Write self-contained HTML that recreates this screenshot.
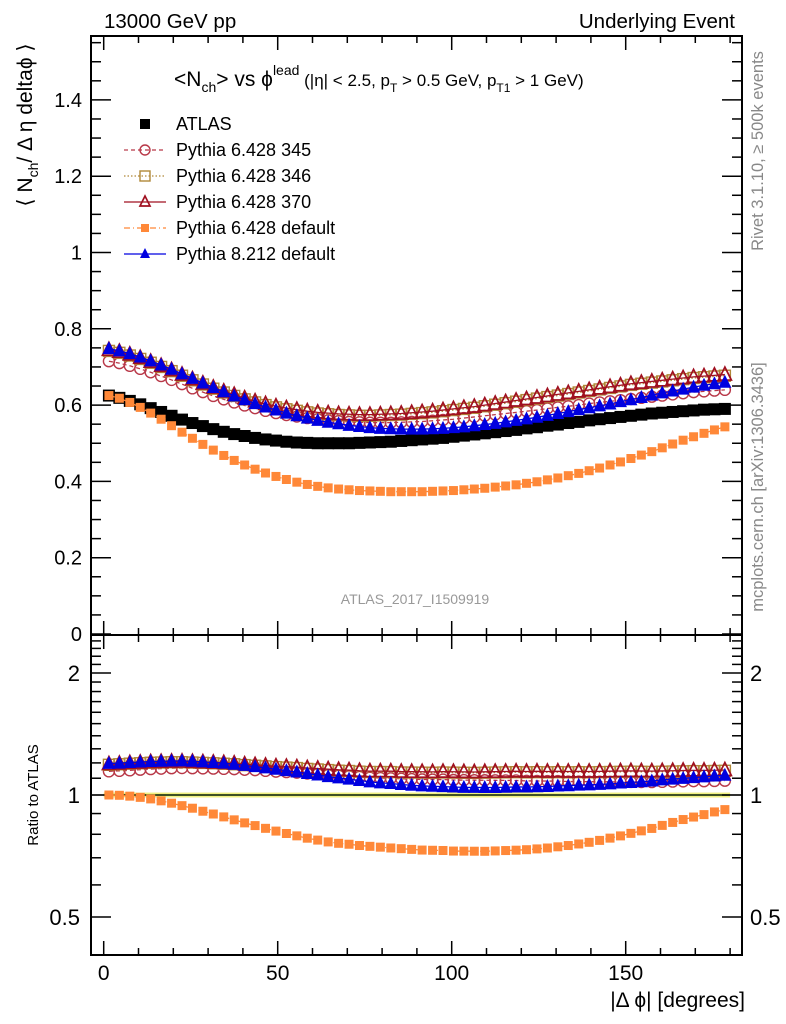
<!DOCTYPE html>
<html><head><meta charset="utf-8"><style>
body{margin:0;background:#fff}
svg{display:block;font-family:"Liberation Sans",sans-serif}
</style></head><body>
<svg id="c" width="786" height="1024" viewBox="0 0 786 1024" xmlns="http://www.w3.org/2000/svg">
<text x="104" y="28" font-size="20.5">13000 GeV pp</text>
<text x="735" y="28" font-size="20.5" text-anchor="end">Underlying Event</text>
<text transform="translate(32,125) rotate(-90)" font-size="21" text-anchor="middle">⟨ N<tspan font-size="14" dy="6">ch</tspan><tspan dy="-6">/ Δ η deltaϕ ⟩</tspan></text>
<text transform="translate(38,795) rotate(-90)" font-size="15" text-anchor="middle">Ratio to ATLAS</text>
<text x="745" y="1007" font-size="21" text-anchor="end">|Δ ϕ| [degrees]</text>
<text transform="translate(763,151) rotate(-90)" font-size="16.5" fill="#888" text-anchor="middle">Rivet 3.1.10, ≥ 500k events</text>
<text transform="translate(763,487) rotate(-90)" font-size="16.5" fill="#888" text-anchor="middle">mcplots.cern.ch [arXiv:1306.3436]</text>
<text x="415" y="604" font-size="14" fill="#999" text-anchor="middle">ATLAS_2017_I1509919</text>
<text x="174" y="86" font-size="21">&lt;N<tspan font-size="14" dy="6">ch</tspan><tspan dy="-6">&gt; vs ϕ</tspan><tspan font-size="14" dy="-11">lead</tspan><tspan font-size="17" dy="11"> (|η| &lt; 2.5, p</tspan><tspan font-size="12" dy="6">T</tspan><tspan font-size="17" dy="-6"> &gt; 0.5 GeV, p</tspan><tspan font-size="12" dy="6">T1</tspan><tspan font-size="17" dy="-6"> &gt; 1 GeV)</tspan></text>
<g id="g"></g>
</svg>
<script>
const xCenters=[1.5,4.5,7.5,10.5,13.5,16.5,19.5,22.5,25.5,28.5,31.5,34.5,37.5,40.5,43.5,46.5,49.5,52.5,55.5,58.5,61.5,64.5,67.5,70.5,73.5,76.5,79.5,82.5,85.5,88.5,91.5,94.5,97.5,100.5,103.5,106.5,109.5,112.5,115.5,118.5,121.5,124.5,127.5,130.5,133.5,136.5,139.5,142.5,145.5,148.5,151.5,154.5,157.5,160.5,163.5,166.5,169.5,172.5,175.5,178.5];
const atlas=[0.625,0.619,0.611,0.602,0.592,0.582,0.572,0.562,0.553,0.545,0.537,0.530,0.524,0.519,0.514,0.510,0.507,0.504,0.502,0.501,0.500,0.500,0.500,0.500,0.501,0.502,0.503,0.504,0.506,0.508,0.510,0.512,0.514,0.517,0.520,0.523,0.526,0.529,0.532,0.535,0.539,0.542,0.546,0.549,0.553,0.556,0.560,0.563,0.566,0.569,0.572,0.575,0.578,0.580,0.582,0.584,0.586,0.588,0.589,0.590];
const py345=[0.715,0.710,0.703,0.695,0.686,0.676,0.666,0.655,0.644,0.634,0.624,0.615,0.607,0.599,0.592,0.585,0.579,0.574,0.570,0.566,0.563,0.560,0.558,0.556,0.555,0.554,0.554,0.554,0.555,0.556,0.557,0.559,0.561,0.563,0.566,0.569,0.572,0.575,0.578,0.581,0.584,0.587,0.591,0.594,0.597,0.600,0.604,0.607,0.610,0.613,0.616,0.619,0.622,0.625,0.628,0.631,0.634,0.636,0.638,0.640];
const py346=[0.742,0.737,0.730,0.721,0.711,0.700,0.689,0.677,0.665,0.654,0.643,0.633,0.624,0.615,0.607,0.600,0.594,0.589,0.585,0.581,0.578,0.576,0.574,0.573,0.572,0.572,0.573,0.574,0.575,0.577,0.579,0.581,0.584,0.587,0.590,0.593,0.597,0.601,0.605,0.609,0.613,0.617,0.621,0.625,0.629,0.633,0.637,0.641,0.645,0.649,0.653,0.656,0.659,0.662,0.665,0.668,0.671,0.673,0.675,0.677];
const py370=[0.745,0.740,0.733,0.724,0.714,0.703,0.692,0.680,0.668,0.657,0.646,0.636,0.627,0.618,0.610,0.603,0.597,0.592,0.588,0.584,0.581,0.579,0.577,0.576,0.575,0.575,0.576,0.577,0.578,0.580,0.582,0.584,0.587,0.590,0.593,0.596,0.600,0.604,0.608,0.612,0.616,0.620,0.624,0.628,0.632,0.636,0.640,0.644,0.648,0.652,0.656,0.659,0.662,0.665,0.668,0.671,0.674,0.676,0.678,0.680];
const py6def=[0.625,0.618,0.607,0.594,0.579,0.563,0.546,0.529,0.513,0.497,0.482,0.468,0.455,0.443,0.432,0.422,0.413,0.405,0.398,0.392,0.387,0.383,0.380,0.378,0.376,0.375,0.374,0.373,0.373,0.373,0.373,0.374,0.375,0.376,0.378,0.380,0.382,0.385,0.388,0.391,0.395,0.399,0.404,0.409,0.415,0.421,0.428,0.435,0.443,0.451,0.460,0.469,0.478,0.488,0.498,0.508,0.517,0.526,0.535,0.543];
const py8def=[0.748,0.742,0.735,0.726,0.716,0.705,0.694,0.682,0.670,0.658,0.646,0.635,0.624,0.614,0.604,0.595,0.587,0.579,0.572,0.566,0.560,0.555,0.551,0.547,0.544,0.541,0.539,0.538,0.537,0.537,0.537,0.538,0.539,0.541,0.543,0.546,0.549,0.552,0.556,0.560,0.564,0.568,0.573,0.578,0.583,0.588,0.593,0.598,0.603,0.609,0.614,0.620,0.626,0.632,0.637,0.642,0.647,0.652,0.656,0.660];
const yTicks=[0,0.2,0.4,0.6,0.8,1,1.2,1.4];
const yTickLabels=["0","0.2","0.4","0.6","0.8","1","1.2","1.4"];
const rTicks=[0.5,1,2];
const rTickLabels=["0.5","1","2"];
const xTicks=[0,50,100,150];
const xTickLabels=["0","50","100","150"];

const NS="http://www.w3.org/2000/svg";
const G=document.getElementById('g');
const L=91,R=742,T=36,MB=635,RB=955;
const X=v=>103.7+v*3.48;
const Y=v=>634-v*381.5;
const RY=v=>795-Math.log2(v)*122;
function el(tag,attrs,parent){const e=document.createElementNS(NS,tag);for(const k in attrs)e.setAttribute(k,attrs[k]);(parent||G).appendChild(e);return e;}

const band=el('rect',{x:X(0),y:RY(1.014),width:X(180)-X(0),height:RY(0.986)-RY(1.014),fill:'#f0f080'});


const one=el('line',{x1:X(0),x2:X(180),y1:RY(1),y2:RY(1),stroke:'#60c040','stroke-width':1.5});



const f1=el('rect',{x:L,y:T,width:R-L,height:MB-T,fill:'none',stroke:'#000','stroke-width':2});


const f2=el('rect',{x:L,y:MB,width:R-L,height:RB-MB,fill:'none',stroke:'#000','stroke-width':2});


const ref=el('line',{x1:L,x2:R,y1:RY(1),y2:RY(1),stroke:'#000','stroke-width':1.3});



for(let v=0;v<=180;v+=10){
  const big=v%50===0,len=big?14:7;
  for(const [y0,dir] of [[T,1],[MB,-1],[MB,1],[RB,-1]]){
    el('line',{x1:X(v),x2:X(v),y1:y0,y2:y0+dir*len,stroke:'#000','stroke-width':1.5});
  }
}
xTicks.forEach((v,i)=>{const t=el('text',{x:X(v),y:980,'font-size':21,'text-anchor':'middle'});t.textContent=xTickLabels[i];

});

for(let k=0;k<=31;k++){const v=k*0.05;const big=k%4===0,len=big?20:10;
  el('line',{x1:L,x2:L+len,y1:Y(v),y2:Y(v),stroke:'#000','stroke-width':1.5});
  el('line',{x1:R,x2:R-len,y1:Y(v),y2:Y(v),stroke:'#000','stroke-width':1.5});}
yTicks.forEach((v,i)=>{const t=el('text',{x:82,y:Y(v)+7,'font-size':20,'text-anchor':'end'});t.textContent=yTickLabels[i];

});

const rmin=[0.6,0.7,0.8,0.9,1.1,1.2,1.3,1.4,1.5,1.6,1.7,1.8,1.9,2.1,2.2,2.3,2.4];
rmin.forEach(v=>{el('line',{x1:L,x2:L+10,y1:RY(v),y2:RY(v),stroke:'#000','stroke-width':1.5});el('line',{x1:R,x2:R-10,y1:RY(v),y2:RY(v),stroke:'#000','stroke-width':1.5});});
rTicks.forEach((v,i)=>{el('line',{x1:L,x2:L+20,y1:RY(v),y2:RY(v),stroke:'#000','stroke-width':1.5});el('line',{x1:R,x2:R-20,y1:RY(v),y2:RY(v),stroke:'#000','stroke-width':1.5});
  const t=el('text',{x:80,y:RY(v)+8,'font-size':22,'text-anchor':'end'});t.textContent=rTickLabels[i];
  
  
  const t2=el('text',{x:750,y:RY(v)+8,'font-size':22});t2.textContent=rTickLabels[i];
  
  });

function marker(p,type,x,y,color,s){
  if(type==='sq')return el('rect',{x:x-s,y:y-s,width:2*s,height:2*s,fill:color},p);
  if(type==='osq')return el('rect',{x:x-s,y:y-s,width:2*s,height:2*s,fill:'none',stroke:color,'stroke-width':1.4},p);
  if(type==='oc')return el('circle',{cx:x,cy:y,r:s,fill:'none',stroke:color,'stroke-width':1.4},p);
  if(type==='otri')return el('polygon',{points:`${x},${y-s-1} ${x-s},${y+s-1} ${x+s},${y+s-1}`,fill:'none',stroke:color,'stroke-width':1.7},p);
  if(type==='tri')return el('polygon',{points:`${x},${y-s-1} ${x-s},${y+s-1} ${x+s},${y+s-1}`,fill:color},p);
}
const series=[
 {name:'pythia-6-428-345',label:'Pythia 6.428 345',data:py345,type:'oc',color:'#b83848',s:5.5,dash:'4,3'},
 {name:'pythia-6-428-346',label:'Pythia 6.428 346',data:py346,type:'osq',color:'#b08838',s:5.5,dash:'1.5,2'},
 {name:'pythia-6-428-370',label:'Pythia 6.428 370',data:py370,type:'otri',color:'#a01020',s:6.5,dash:''},
 {name:'pythia-6-428-default',label:'Pythia 6.428 default',data:py6def,type:'sq',color:'#ff8838',s:4.5,dash:'6,3,1,3'},
 {name:'pythia-8-212-default',label:'Pythia 8.212 default',data:py8def,type:'tri',color:'#0000e0',s:6.5,dash:''}
];
function polyline(p,pts,color,dash){return el('polyline',{points:pts.join(' '),fill:'none',stroke:color,'stroke-width':1.3,'stroke-dasharray':dash},p);}

const ga=el('g',{});


xCenters.forEach((x,i)=>{const m=marker(ga,'sq',X(x),Y(atlas[i]),'#000',6);

});

series.forEach(sr=>{
  const g=el('g',{});
  
  
  const gr=el('g',{});
  
  
  polyline(g,xCenters.map((x,i)=>X(x)+','+Y(sr.data[i])),sr.color,sr.dash);
  polyline(gr,xCenters.map((x,i)=>X(x)+','+RY(sr.data[i]/atlas[i])),sr.color,sr.dash);
  xCenters.forEach((x,i)=>{
    const m=marker(g,sr.type,X(x),Y(sr.data[i]),sr.color,sr.s);
    
    
    const m2=marker(gr,sr.type,X(x),RY(sr.data[i]/atlas[i]),sr.color,sr.s);
    
    
  });
});

const lg=el('g',{});


const rows=[{label:'ATLAS',type:'sq',color:'#000',s:5,dash:null}].concat(series);
rows.forEach((r,i)=>{
  const y=124+i*26;
  const e=el('g',{},lg);
  
  
  if(r.dash!==null)el('line',{x1:124,x2:166,y1:y,y2:y,stroke:r.color,'stroke-width':1.2,'stroke-dasharray':r.dash},e);
  marker(e,r.type,145,y,r.color,r.type==='sq'&&r.color!=='#000'?4:(r.type==='sq'?5:5));
  const t=el('text',{x:176,y:y+6,'font-size':18},e);t.textContent=r.label;
});
</script>
</body></html>
